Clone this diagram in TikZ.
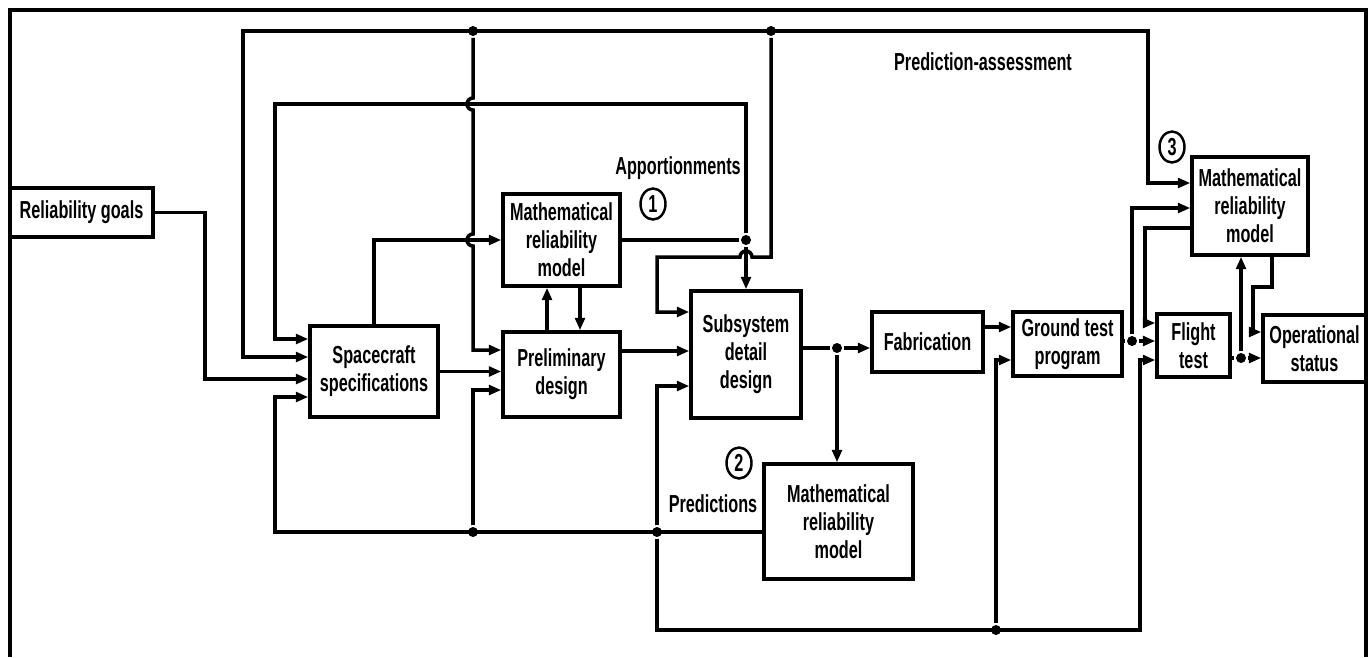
\documentclass[tikz,border=0pt]{standalone}
\usepackage{fontspec}
\setmainfont{Liberation Sans}[FakeStretch=0.66]
\usetikzlibrary{arrows.meta,shapes.geometric}

\begin{document}
\begin{tikzpicture}[
  x=0.02cm, y=-0.02cm,
  line width=2pt,
  every node/.style={font=\fontsize{14}{16}\selectfont\bfseries},
  box/.style={draw, align=center, inner sep=1pt},
  arr/.style={-{Triangle[length=7pt,width=5.5pt]}},
  arrtwo/.style={{Triangle[length=7pt,width=5.5pt]}-{Triangle[length=7pt,width=5.5pt]}},
  num/.style={draw, ellipse, line width=1.4pt, inner sep=0pt, minimum width=0.5cm, minimum height=0.62cm},
  dot/.style={circle, fill, inner sep=0pt, minimum size=0.2cm},
  lbl/.style={inner sep=0pt}
]
\useasboundingbox (0,0) rectangle (1371,657);
\draw (10,657) -- (10,10) -- (1366,10) -- (1366,657);

\node[box, minimum width=2.86cm, minimum height=0.98cm] (goals) at (81.5,212.5) {Reliability goals};
\node[box, minimum width=2.56cm, minimum height=1.82cm] (spec) at (374,371.5) {Spacecraft\\specifications};
\node[box, minimum width=2.34cm, minimum height=1.84cm] (math1) at (561.5,240) {Mathematical\\reliability\\model};
\node[box, minimum width=2.34cm, minimum height=1.70cm] (prelim) at (561.5,374.5) {Preliminary\\design};
\node[box, minimum width=2.20cm, minimum height=2.54cm] (subsys) at (746,354.5) {Subsystem\\detail\\design};
\node[box, minimum width=2.22cm, minimum height=1.20cm] (fab) at (927.5,342) {Fabrication};
\node[box, minimum width=2.18cm, minimum height=1.28cm] (ground) at (1067.5,344) {Ground test\\program};
\node[box, minimum width=1.46cm, minimum height=1.26cm] (flight) at (1193.5,345.5) {Flight\\test};
\node[box, minimum width=2.06cm, minimum height=1.34cm] (oper) at (1314.5,348.5) {Operational\\status};
\node[box, minimum width=2.32cm, minimum height=1.96cm] (math3) at (1250,206) {Mathematical\\reliability\\model};
\node[box, minimum width=2.98cm, minimum height=2.30cm] (math2) at (838.5,521.5) {Mathematical\\reliability\\model};

\node[lbl] (predass) at (983,62) {Prediction-assessment};
\node[lbl] (apport) at (678,168) {Apportionments};
\node[num] (n1) at (653,204) {1};
\node[num] (n2) at (739,463) {2};
\node[lbl] (predict) at (713,504) {Predictions};
\node[num] (n3) at (1172,147) {3};

% junctions
\node[dot] (jA1) at (473,31) {};
\node[dot] (jA2) at (771,31) {};
\node[dot] (jM) at (746,240) {};
\node[dot] (jB1) at (473,532) {};
\node[dot] (jB2) at (657,532) {};
\node[dot] (jB3) at (996,630) {};
\node[dot] (jS) at (837,348) {};
\node[dot] (jG) at (1132,341) {};
\node[dot] (jF) at (1241,358) {};

% feedback lines
\draw[arrtwo] (spec.west |- 0,357) -| (243,31) -| (1148,183) -- (math3.west |- 0,183);
\draw[arr] (jM) -- (746,104) -| (275,339) -- (spec.west |- 0,339);
\draw[arr] (jA1) -- (473,98) arc[start angle=90, end angle=270, radius=0.12cm]
  -- (473,234) arc[start angle=90, end angle=270, radius=0.12cm] |- (prelim.west |- 0,350);
\draw[arr] (jA2) -- (771,257) -- (752,257) arc[start angle=0, end angle=180, radius=0.12cm]
  -- (657,257) |- (subsys.west |- 0,312);
\draw[arr] (math2.west |- 0,532) -| (275,397) -- (spec.west |- 0,397);
\draw[arr] (jB1) |- (prelim.west |- 0,390);
\draw[arr] (jB2) |- (subsys.west |- 0,386);
\draw[arr] (jB2) -- (657,630) -| (1140,360) -- (flight.west |- 0,360);
\draw[arr] (jB3) |- (ground.west |- 0,360);

% main flow
\draw[arr] (goals.east) -| (205,379) -- (spec.west |- 0,379);
\draw[arr] (spec.north) |- (math1.west);
\draw[arr] (spec.east) -- (prelim.west |- spec.east);
\draw[arr] (prelim.north -| 547,0) -- (math1.south -| 547,0);
\draw[arr] (math1.south -| 580,0) -- (prelim.north -| 580,0);
\draw[arr] (prelim.east |- 0,351) -- (subsys.west |- 0,351);
\draw (math1.east) -- (jM);
\draw[arr] (jM) -- (subsys.north);
\draw (subsys.east |- jS) -- (jS);
\draw[arr] (jS) -- (fab.west |- jS);
\draw[arr] (jS) -- (math2.north -| jS);
\draw[arr] (fab.east |- 0,327) -- (ground.west |- 0,327);
\draw (ground.east |- jG) -- (jG);
\draw[arr] (jG) -- (flight.west |- jG);
\draw[arr] (jG) |- (math3.west |- 0,208);
\draw[arr] (math3.west |- 0,228) -| (1145,323) -- (flight.west |- 0,323);
\draw (flight.east |- jF) -- (jF);
\draw[arr] (jF) -- (oper.west |- jF);
\draw[arr] (jF) -- (math3.south -| jF);
\draw[arr] (math3.south -| 1272,0) |- (1253,287) |- (oper.west |- 0,332);
\end{tikzpicture}
\end{document}
